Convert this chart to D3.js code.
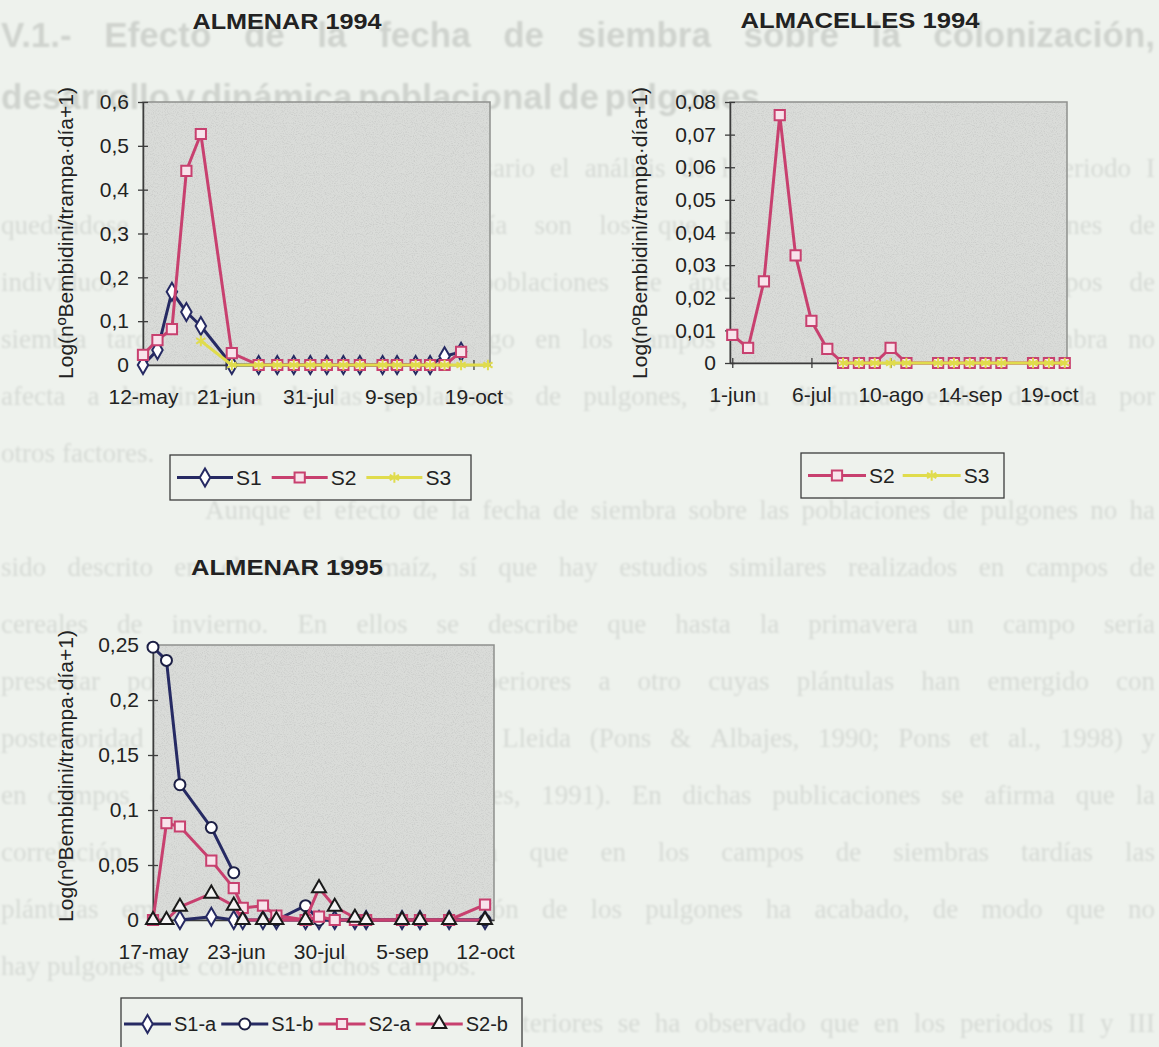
<!DOCTYPE html>
<html>
<head>
<meta charset="utf-8">
<script src="https://cdn.jsdelivr.net/npm/d3@7"></script>
<style>
  body { margin: 0; background: #eef2ed; }
  svg { display: block; }
</style>
</head>
<body>
<svg id="page"></svg>
<script>
// ---- datos ----
const mes = ["ene", "feb", "mar", "abr", "may", "jun", "jul", "ago", "sep", "oct", "nov", "dic"];

// ALMENAR 1994
const fechas94a = ["1994-05-12", "1994-05-19", "1994-05-26", "1994-06-02", "1994-06-09", "1994-06-24",
    "1994-07-07", "1994-07-16", "1994-07-24", "1994-08-01", "1994-08-09", "1994-08-17", "1994-08-25",
    "1994-09-05", "1994-09-12", "1994-09-21", "1994-09-28", "1994-10-05", "1994-10-13", "1994-10-26"];
const s1_94a = [0, 0.034, 0.167, 0.121, 0.089, 0, 0, 0, 0, 0, 0, 0, 0, 0, 0, 0, 0, 0.02, 0.03, null];
const s2_94a = [0.023, 0.057, 0.082, 0.443, 0.527, 0.027, 0, 0, 0, 0, 0, 0, 0, 0, 0, 0, 0, 0, 0.03, null];
const s3_94a = [null, null, null, null, 0.055, 0, 0, 0, 0, 0, 0, 0, 0, 0, 0, 0, 0, 0, 0, 0];
const xTicks94a = ["1994-05-12", "1994-06-21", "1994-07-31", "1994-09-09", "1994-10-19"];
const yTicks94a = [0, 0.1, 0.2, 0.3, 0.4, 0.5, 0.6];

// ALMACELLES 1994
const fechas94b = ["1994-06-01", "1994-06-08", "1994-06-15", "1994-06-22", "1994-06-29", "1994-07-06",
    "1994-07-13", "1994-07-20", "1994-07-27", "1994-08-03", "1994-08-10", "1994-08-17", "1994-08-31",
    "1994-09-07", "1994-09-14", "1994-09-21", "1994-09-28", "1994-10-12", "1994-10-19", "1994-10-26"];
const s2_94b = [0.0086, 0.0046, 0.025, 0.076, 0.033, 0.0129, 0.0043, 0, 0, 0, 0.0046, 0, 0, 0, 0, 0, 0, 0, 0, 0];
const s3_94b = [null, null, null, null, null, null, null, 0, 0, 0, 0, 0, 0, 0, 0, 0, 0, 0, 0, 0];
const xTicks94b = ["1994-06-01", "1994-07-06", "1994-08-10", "1994-09-14", "1994-10-19"];
const yTicks94b = [0, 0.01, 0.02, 0.03, 0.04, 0.05, 0.06, 0.07, 0.08];

// ALMENAR 1995
const fechas95 = ["1995-05-17", "1995-05-23", "1995-05-29", "1995-06-12", "1995-06-22", "1995-06-26",
    "1995-07-05", "1995-07-11", "1995-07-24", "1995-07-30", "1995-08-06", "1995-08-15", "1995-08-20",
    "1995-09-05", "1995-09-13", "1995-09-26", "1995-10-12"];
const s1a_95 = [null, null, 0, 0.003, 0, 0, 0, 0, 0, 0, 0, 0, 0, 0, 0, 0, 0];
const s1b_95 = [0.248, 0.236, 0.123, 0.084, 0.043, null, null, 0, 0.013, 0, 0, 0, 0, 0, 0, 0, 0];
const s2a_95 = [0, 0.088, 0.085, 0.054, 0.029, 0.011, 0.013, 0.004, 0, 0.003, 0, 0, 0, 0, 0, 0, 0.014];
const s2b_95 = [0, 0, 0.012, 0.024, 0.013, 0, 0, 0, 0, 0.029, 0.012, 0.002, 0, 0, 0, 0, 0];
const xTicks95 = ["1995-05-17", "1995-06-23", "1995-07-30", "1995-09-05", "1995-10-12"];
const yTicks95 = [0, 0.05, 0.1, 0.15, 0.2, 0.25];

// texto de la pagina (al fondo)
const titulo = ["V.1.- Efecto de la fecha de siembra sobre la colonización,",
    "desarrollo y dinámica poblacional de pulgones"];
const lineas = [
    "Se ha considerado necesario el análisis de los datos del principio del periodo I",
    "quedándose con los de siembra tardía son los que presentan mayores poblaciones de",
    "individuos alados y adelantado las poblaciones de ápteros, además en los campos de",
    "siembra tardía son menores. Sin embargo en los campos de años, la fecha de siembra no",
    "afecta a la dinámica de las poblaciones de pulgones, y su dinámica vendrá definida por",
    "otros factores.",
    "Aunque el efecto de la fecha de siembra sobre las poblaciones de pulgones no ha",
    "sido descrito en el caso de maíz, sí que hay estudios similares realizados en campos de",
    "cereales de invierno. En ellos se describe que hasta la primavera un campo sería",
    "presentar poblaciones de pulgones superiores a otro cuyas plántulas han emergido con",
    "posterioridad en campos de cereales de Lleida (Pons & Albajes, 1990; Pons et al., 1998) y",
    "en campos de Madrid (Ferrer & Fereres, 1991). En dichas publicaciones se afirma que la",
    "correlación se debe principalmente a que en los campos de siembras tardías las",
    "plántulas emergen cuando la colonización de los pulgones ha acabado, de modo que no",
    "hay pulgones que colonicen dichos campos.",
    "En los campos de años anteriores se ha observado que en los periodos II y III"
];
const sangrias = [0, 6, 15];
const finales = [5, 14];

// ---- dibujo ----
const W = 1159, H = 1047;
const svg = d3.select("#page").attr("width", W).attr("height", H).attr("viewBox", [0, 0, W, H]);
const defs = svg.append("defs");
defs.append("filter").attr("id", "blur")
    .append("feGaussianBlur").attr("stdDeviation", 1.2);
// punteado del area de trazado (escaneo)
const grain = defs.append("filter").attr("id", "grain")
    .attr("x", 0).attr("y", 0).attr("width", "100%").attr("height", "100%");
grain.append("feTurbulence").attr("type", "fractalNoise").attr("baseFrequency", 0.9)
    .attr("numOctaves", 2).attr("seed", 7);
grain.append("feColorMatrix").attr("type", "matrix")
    .attr("values", "0 0 0 0 0.5  0 0 0 0 0.51  0 0 0 0 0.5  3 0 0 0 -1.35");

const parse = d3.timeParse("%Y-%m-%d");
const fmtX = d => `${d.getDate()}-${mes[d.getMonth()]}`;
const fmtY = d3.formatLocale({decimal: ",", thousands: ".", grouping: [3], currency: ["", ""]}).format(".2~f");
const SANS = "'Liberation Sans', Arial, sans-serif";

function justificar(g, texto, y, x0, x1, justify) {
    const words = texto.split(" ");
    const nodes = words.map(w => g.append("text").attr("y", y).text(w));
    const widths = nodes.map(n => n.node().getComputedTextLength());
    let space = justify && words.length > 1 ? (x1 - x0 - d3.sum(widths)) / (words.length - 1) : 7;
    space = Math.max(space, 3);
    let x = x0;
    nodes.forEach((n, i) => { n.attr("x", x); x += widths[i] + space; });
}

const fondo = svg.append("g").attr("filter", "url(#blur)");
const gTit = fondo.append("g").attr("font-family", SANS).attr("font-weight", "bold")
    .attr("font-size", 35).attr("fill", "#cfd3ce");
justificar(gTit, titulo[0], 47, 1, 1155, true);
justificar(gTit, titulo[1], 109, 1, 760, true);

const gTxt = fondo.append("g").attr("font-family", "'Liberation Serif', 'Times New Roman', serif")
    .attr("font-size", 27).attr("fill", "#d6dad5");
lineas.forEach((t, i) => {
    const x0 = sangrias.includes(i) ? 205 : 1;
    justificar(gTxt, t, 177 + i * 57, x0, 1155, !finales.includes(i));
});

const navy = "#262a63", pink = "#c8406f", yellow = "#e0dc4c";
const est = {
    diamond: {symbol: d3.symbolDiamond, size: 95, fill: "#fff", mstroke: navy},
    square: {symbol: d3.symbolSquare, size: 105, fill: "#f8e3eb", mstroke: pink},
    star: {symbol: d3.symbolAsterisk || d3.symbolCross, size: 80, fill: "none", mstroke: yellow},
    circle: {symbol: d3.symbolCircle, size: 95, fill: "#fff", mstroke: "#1c1f45"},
    triangle: {symbol: d3.symbolTriangle, size: 85, fill: "#f4f4f4", mstroke: "#1a1a1a"}
};

function marcador(g, s, cx, cy) {
    g.append("path")
        .attr("transform", `translate(${cx},${cy})`)
        .attr("d", d3.symbol(s.symbol, s.size)())
        .attr("fill", s.fill)
        .attr("stroke", s.mstroke)
        .attr("stroke-width", 2);
}

function grafico(c) {
    const g = svg.append("g").attr("font-family", SANS).attr("fill", "#222");
    const x = d3.scaleTime().domain(c.xDomain.map(parse)).range([c.left, c.right]);
    const y = d3.scaleLinear().domain([0, d3.max(c.yTicks)]).range([c.bottom, c.top]);

    const area = {x: c.left, y: c.top, width: c.right - c.left, height: c.bottom - c.top};
    g.append("rect").attr("x", area.x).attr("y", area.y).attr("width", area.width).attr("height", area.height)
        .attr("fill", "#dadcd9");
    g.append("rect").attr("x", area.x).attr("y", area.y).attr("width", area.width).attr("height", area.height)
        .attr("filter", "url(#grain)").attr("opacity", 0.45);
    g.append("rect").attr("x", area.x).attr("y", area.y).attr("width", area.width).attr("height", area.height)
        .attr("fill", "none").attr("stroke", "#8e908d").attr("stroke-width", 1.5);

    g.append("g")
        .attr("transform", `translate(${c.left},0)`)
        .call(d3.axisLeft(y).tickValues(c.yTicks).tickFormat(fmtY).tickSizeInner(5).tickSizeOuter(0).tickPadding(9))
        .call(a => a.attr("font-family", null).attr("font-size", 21))
        .call(a => a.select(".domain").attr("stroke", "#3c3c3c").attr("stroke-width", 1.5))
        .call(a => a.selectAll(".tick line").attr("x1", 5).attr("stroke", "#3c3c3c").attr("stroke-width", 1.3))
        .call(a => a.selectAll(".tick text").attr("fill", "#222"));

    g.append("g")
        .attr("transform", `translate(0,${c.bottom})`)
        .call(d3.axisBottom(x).tickValues(c.xTicks.map(parse)).tickFormat(fmtX).tickSizeInner(5).tickSizeOuter(0).tickPadding(19))
        .call(a => a.attr("font-family", null).attr("font-size", 21))
        .call(a => a.select(".domain").attr("stroke", "#3c3c3c").attr("stroke-width", 1.5))
        .call(a => a.selectAll(".tick line").attr("y1", -5).attr("stroke", "#3c3c3c").attr("stroke-width", 1.3))
        .call(a => a.selectAll(".tick text").attr("fill", "#222"));

    c.series.forEach(s => {
        const pts = c.fechas.map((f, i) => ({d: parse(f), v: s.values[i]}));
        const line = d3.line().defined(p => p.v != null).x(p => x(p.d)).y(p => y(p.v));
        g.append("path").attr("d", line(pts))
            .attr("fill", "none").attr("stroke", s.color).attr("stroke-width", 3)
            .attr("stroke-linejoin", "round");
        pts.filter(p => p.v != null).forEach(p => marcador(g, s.m, x(p.d), y(p.v)));
    });

    g.append("text")
        .attr("x", c.tx).attr("y", c.ty)
        .attr("text-anchor", "middle").attr("font-weight", "bold").attr("font-size", 22)
        .attr("textLength", c.tw).attr("lengthAdjust", "spacingAndGlyphs")
        .text(c.titulo);

    g.append("text")
        .attr("transform", `translate(${c.ylx},${c.yly}) rotate(-90)`)
        .attr("text-anchor", "middle").attr("dy", "0.35em").attr("font-size", 21)
        .text("Log(nºBembidini/trampa·día+1)");

    const L = c.legend;
    g.append("rect").attr("x", L.x).attr("y", L.y).attr("width", L.w).attr("height", L.h)
        .attr("fill", "#eef2ed").attr("stroke", "#3c3c3c").attr("stroke-width", 1.3);
    let lx = L.x + L.pad;
    const ly = L.y + L.h / 2;
    c.series.forEach(s => {
        g.append("line").attr("x1", lx).attr("x2", lx + L.line).attr("y1", ly).attr("y2", ly)
            .attr("stroke", s.color).attr("stroke-width", 3);
        marcador(g, s.m, lx + L.line / 2, ly);
        const t = g.append("text").attr("x", lx + L.line + 3).attr("y", ly).attr("dy", "0.35em")
            .attr("font-size", L.fs).text(s.name);
        lx += L.line + 3 + t.node().getComputedTextLength() + L.gap;
    });
}

grafico({
    titulo: "ALMENAR 1994", tx: 287, ty: 29, tw: 189,
    left: 143, right: 490, top: 102, bottom: 365,
    xDomain: ["1994-05-12", "1994-10-27"], xTicks: xTicks94a, yTicks: yTicks94a,
    fechas: fechas94a,
    series: [
        {name: "S1", values: s1_94a, color: navy, m: est.diamond},
        {name: "S2", values: s2_94a, color: pink, m: est.square},
        {name: "S3", values: s3_94a, color: yellow, m: est.star}
    ],
    ylx: 66, yly: 233,
    legend: {x: 170, y: 455, w: 301, h: 45, pad: 7, line: 56, gap: 10, fs: 21}
});

grafico({
    titulo: "ALMACELLES 1994", tx: 860, ty: 28, tw: 239,
    left: 730, right: 1067, top: 102, bottom: 363,
    xDomain: ["1994-05-31", "1994-10-27"], xTicks: xTicks94b, yTicks: yTicks94b,
    fechas: fechas94b,
    series: [
        {name: "S2", values: s2_94b, color: pink, m: est.square},
        {name: "S3", values: s3_94b, color: yellow, m: est.star}
    ],
    ylx: 640, yly: 233,
    legend: {x: 801, y: 453, w: 203, h: 45, pad: 7, line: 58, gap: 8, fs: 21}
});

grafico({
    titulo: "ALMENAR 1995", tx: 287, ty: 575, tw: 192,
    left: 153, right: 494, top: 645, bottom: 920,
    xDomain: ["1995-05-17", "1995-10-16"], xTicks: xTicks95, yTicks: yTicks95,
    fechas: fechas95,
    series: [
        {name: "S1-a", values: s1a_95, color: navy, m: est.diamond},
        {name: "S1-b", values: s1b_95, color: navy, m: est.circle},
        {name: "S2-a", values: s2a_95, color: pink, m: est.square},
        {name: "S2-b", values: s2b_95, color: pink, m: est.triangle}
    ],
    ylx: 66, yly: 776,
    legend: {x: 121, y: 998, w: 401, h: 52, pad: 3, line: 47, gap: 5, fs: 20}
});
</script>
</body>
</html>
